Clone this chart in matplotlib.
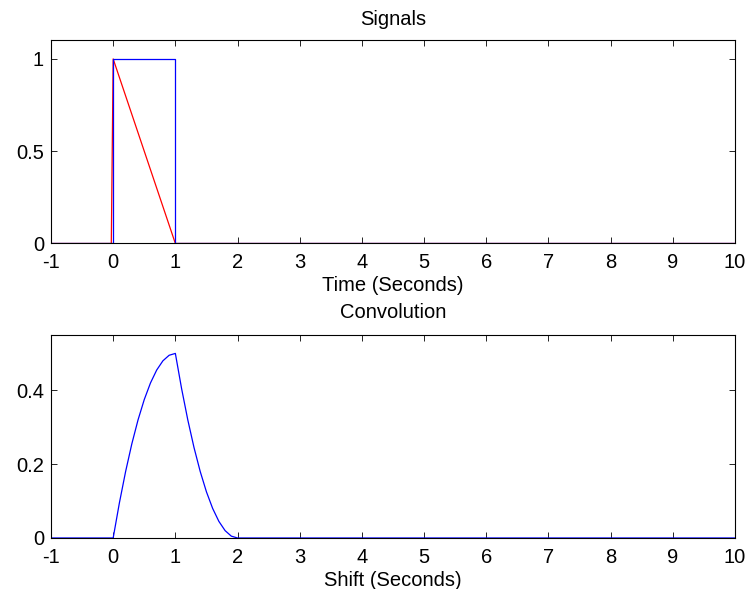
import matplotlib
matplotlib.use("Agg")
import matplotlib.pyplot as plt

plt.rcParams["font.family"] = ["Liberation Sans", "DejaVu Sans"]
plt.rcParams["font.size"] = 14.5
plt.rcParams["axes.unicode_minus"] = False

# top panel: pulse (blue) and ramp (red)
pulse_t = [-1, 0, 0, 1, 1, 10]
pulse_y = [0, 0, 1, 1, 0, 0]
ramp_t = [-1, -0.03, 0, 1, 10]
ramp_y = [0, 0, 1, 0, 0]

# bottom panel: convolution result
conv_t = [-1, 0, 0.1, 0.2, 0.3, 0.4, 0.5, 0.6, 0.7, 0.8, 0.9, 1.0,
          1.1, 1.2, 1.3, 1.4, 1.5, 1.6, 1.7, 1.8, 1.9, 2.0, 10]
conv_y = [0, 0, 0.095, 0.18, 0.255, 0.32, 0.375, 0.42, 0.455, 0.48, 0.495, 0.5,
          0.405, 0.32, 0.245, 0.18, 0.125, 0.08, 0.045, 0.02, 0.005, 0, 0]

xticks = list(range(-1, 11))


def style_axes(ax):
    ax.set_xlim(-1, 10)
    ax.set_xticks(xticks)
    ax.tick_params(direction="in", top=True, right=True, length=4, width=0.6,
                   labelsize=14.5)
    ax.tick_params(axis="x", pad=7)
    ax.tick_params(axis="y", pad=5)
    for sp in ax.spines.values():
        sp.set_linewidth(0.8)


fig = plt.figure(figsize=(7.52, 5.89), dpi=100)

ax1 = fig.add_axes([0.0678, 0.5866, 0.9096, 0.3447])
ax1.plot(ramp_t, ramp_y, color="red", lw=0.9)
ax1.plot(pulse_t, pulse_y, color="blue", lw=0.9)
style_axes(ax1)
ax1.set_ylim(0, 1.1)
ax1.set_yticks([0, 0.5, 1])
ax1.set_yticklabels(["0", "0.5", "1"])
ax1.set_title("Signals", fontsize=14.5, pad=11)
ax1.set_xlabel("Time (Seconds)", fontsize=14.5, labelpad=3)

ax2 = fig.add_axes([0.0678, 0.0866, 0.9096, 0.3447])
ax2.plot(conv_t, conv_y, color="blue", lw=0.9)
style_axes(ax2)
ax2.set_ylim(0, 0.55)
ax2.set_yticks([0, 0.2, 0.4])
ax2.set_yticklabels(["0", "0.2", "0.4"])
ax2.set_title("Convolution", fontsize=14.5, pad=12)
ax2.set_xlabel("Shift (Seconds)", fontsize=14.5, labelpad=3)

fig.savefig("out.png", dpi=100)
